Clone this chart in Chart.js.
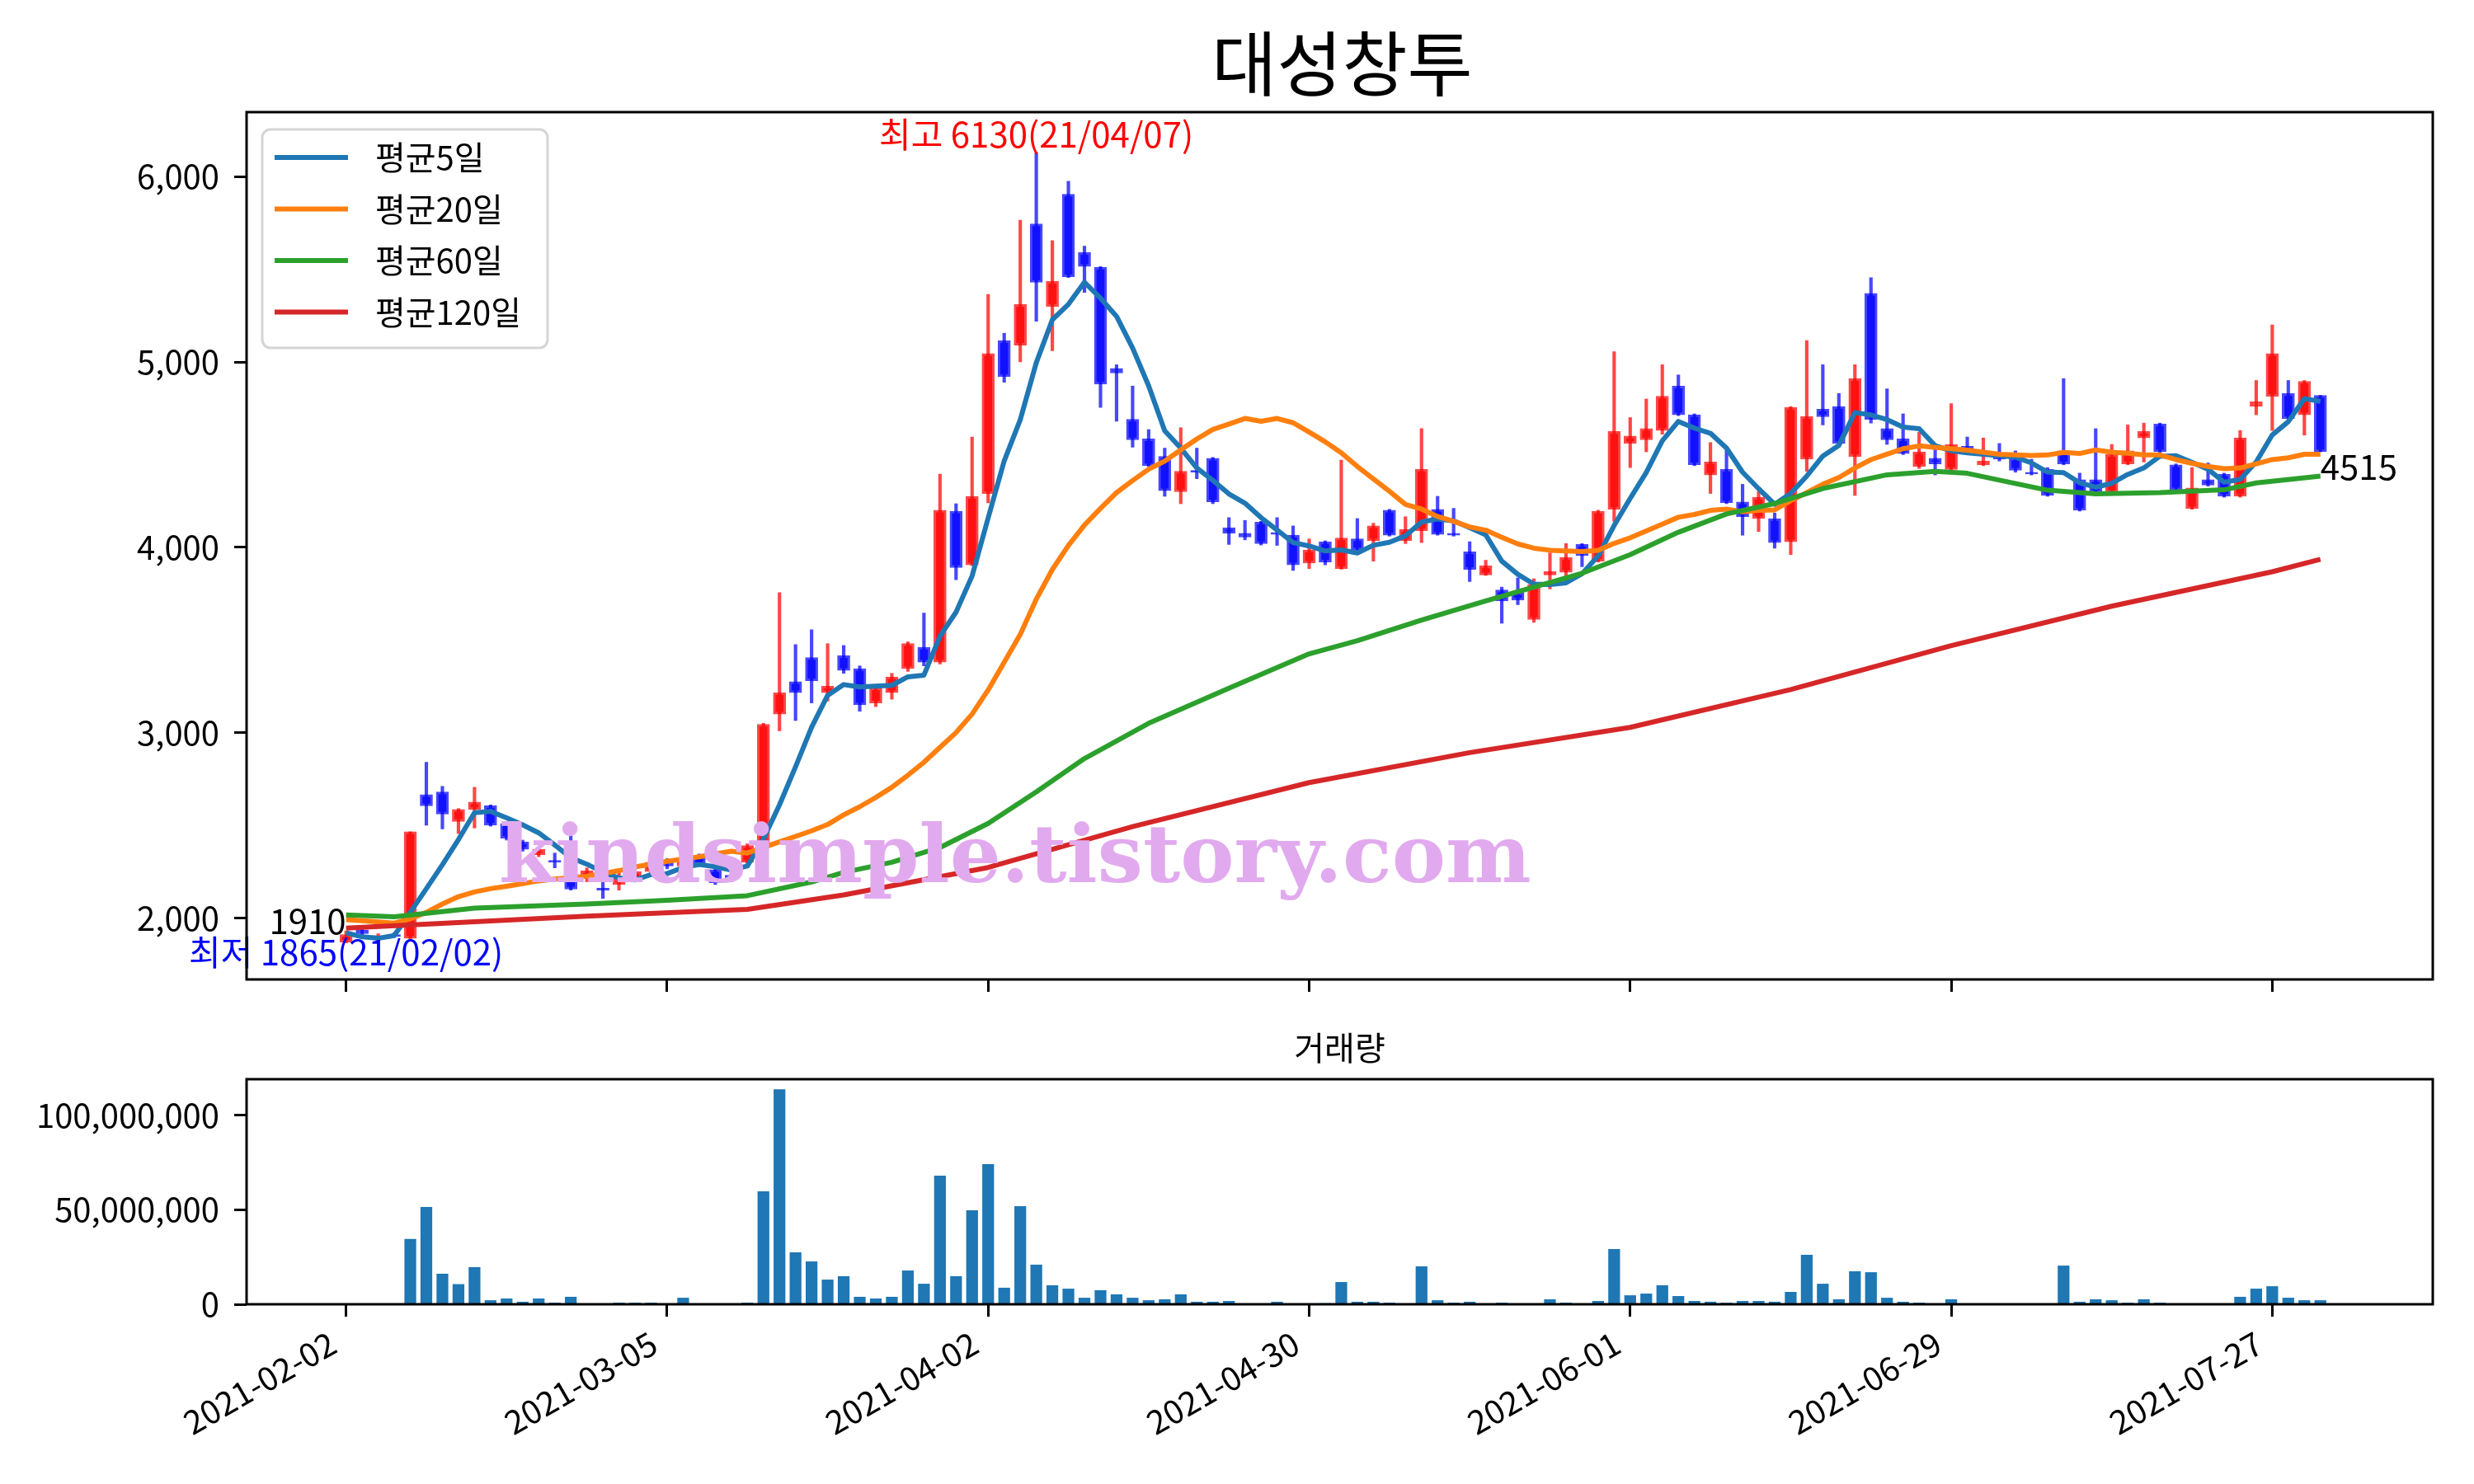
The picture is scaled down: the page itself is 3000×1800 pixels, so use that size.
<!DOCTYPE html>
<html>
<head>
<meta charset="utf-8">
<script src="https://cdn.jsdelivr.net/npm/chart.js@4.4.1/dist/chart.umd.min.js"></script>
<style>
  html, body { margin: 0; padding: 0; background: #fff; }
  #wrap { position: relative; width: 3000px; height: 1800px; }
  canvas { position: absolute; left: 0; }
</style>
</head>
<body>
<div id="wrap">
  <canvas id="price" width="3000" height="1230" style="top:0;width:3000px;height:1230px"></canvas>
  <canvas id="volume" width="3000" height="570" style="top:1230px;width:3000px;height:570px"></canvas>
</div>
<script>
/* DATA (index = trading day from 2021-02-02) */
const TICK_POS = [0, 20, 40, 60, 80, 100, 120];
const TICK_LABELS = ['2021-02-02', '2021-03-05', '2021-04-02', '2021-04-30', '2021-06-01', '2021-06-29', '2021-07-27'];

const OPEN = [1870,1935,1895,1910,1890,2665,2680,2520,2585,2605,2510,2410,2340,2310,2215,2225,2160,2180,2210,2250,
  2300,2280,2335,2260,2230,2300,2400,3100,3275,3405,3215,3415,3345,3160,3215,3345,3460,3380,4195,3905,
  4290,5115,5090,5745,5300,5905,5590,5510,4965,4690,4585,4490,4300,4415,4480,4105,4075,4135,4080,4065,
  3915,4030,3885,4045,4035,4200,4035,4090,4205,4075,3975,3850,3770,3755,3610,3850,3865,4015,3925,4205,
  4560,4580,4630,4870,4715,4390,4420,4245,4155,4155,4030,4475,4745,4760,4490,5370,4640,4585,4435,4480,
  4420,4545,4445,4505,4480,4405,4420,4520,4365,4365,4295,4450,4590,4665,4445,4210,4365,4395,4275,4760,
  4815,4830,4715,4820];
const HIGH = [1930,1950,1915,1920,2465,2840,2710,2590,2705,2610,2515,2420,2380,2350,2455,2270,2195,2260,2270,2355,
  2320,2340,2345,2265,2240,2400,3050,3755,3475,3555,3480,3470,3360,3260,3320,3490,3645,4395,4235,4595,
  5365,5155,5765,6130,5655,5975,5625,5515,4985,4870,4635,4535,4645,4535,4485,4160,4145,4140,4160,4115,
  4045,4035,4470,4155,4130,4205,4165,4640,4275,4210,4030,3930,3785,3835,3830,3970,4020,4020,4200,5055,
  4700,4800,4985,4930,4720,4565,4525,4340,4300,4185,4760,5115,4985,4830,4985,5455,4855,4720,4620,4540,
  4775,4595,4590,4560,4520,4475,4430,4910,4400,4640,4555,4660,4670,4670,4450,4430,4455,4400,4630,4900,
  5200,4900,4900,4820];
const LOW = [1865,1905,1885,1895,1885,2500,2480,2455,2485,2495,2420,2360,2330,2270,2150,2195,2105,2150,2200,2240,
  2265,2270,2280,2180,2195,2290,2395,3010,3065,3160,3170,3320,3115,3140,3180,3330,3360,3370,3825,3900,
  4240,4890,5000,5220,5060,5455,5375,4755,4680,4540,4435,4275,4235,4370,4235,4015,4040,4012,4010,3875,
  3885,3905,3882,3980,3925,4060,4020,4025,4065,4060,3815,3848,3590,3690,3595,3775,3845,3895,3920,4140,
  4430,4515,4610,4710,4440,4290,4235,4065,4085,3995,3960,4410,4660,4555,4280,4670,4555,4500,4425,4390,
  4415,4520,4440,4465,4405,4390,4275,4445,4195,4290,4290,4445,4460,4510,4305,4205,4330,4270,4270,4715,
  4630,4690,4605,4515];
const CLOSE = [1910,1915,1905,1900,2465,2605,2560,2585,2625,2500,2430,2370,2370,2300,2155,2255,2150,2210,2250,2300,
  2280,2320,2290,2190,2210,2390,3045,3215,3215,3280,3250,3335,3150,3240,3300,3480,3380,4200,3890,4275,
  5045,4920,5310,5430,5435,5460,5515,4880,4940,4580,4440,4305,4410,4405,4245,4075,4055,4020,4070,3905,
  3985,3920,4050,3985,4115,4065,4095,4420,4070,4065,3880,3900,3710,3715,3800,3870,3945,3955,4195,4625,
  4600,4640,4815,4715,4445,4460,4240,4165,4270,4025,4755,4705,4705,4560,4910,4690,4580,4505,4515,4450,
  4555,4525,4465,4475,4415,4395,4280,4450,4200,4295,4500,4520,4625,4515,4310,4320,4335,4275,4590,4785,
  5045,4695,4895,4515];
const VOLUME = [0,0,0,0,34.4e6,51.3e6,16.0e6,10.5e6,19.5e6,2.0e6,2.9e6,1.2e6,2.9e6,0.7e6,3.8e6,0.3e6,0.3e6,0.7e6,0.7e6,0.7e6,
  0.1e6,3.3e6,0.3e6,0.3e6,0.3e6,0.7e6,59.5e6,113.5e6,27.3e6,22.5e6,12.9e6,14.7e6,3.8e6,2.9e6,3.8e6,17.7e6,10.7e6,67.8e6,14.7e6,49.5e6,
  73.9e6,8.6e6,51.7e6,20.8e6,9.9e6,8.1e6,3.3e6,7.3e6,5.1e6,3.3e6,2.0e6,2.5e6,5.1e6,1.2e6,1.2e6,1.6e6,0.3e6,0.3e6,1.2e6,0.3e6,
  0.3e6,0.4e6,11.6e6,1.2e6,1.2e6,0.7e6,0.3e6,19.9e6,2.0e6,0.7e6,1.2e6,0.1e6,0.7e6,0.1e6,0.3e6,2.5e6,0.7e6,0.1e6,1.6e6,29.0e6,
  4.6e6,5.5e6,9.9e6,4.2e6,1.6e6,1.2e6,0.7e6,1.6e6,1.6e6,1.2e6,6.4e6,26.0e6,10.7e6,2.5e6,17.3e6,16.8e6,3.3e6,1.2e6,0.7e6,0.3e6,
  2.5e6,0.1e6,0.1e6,0.3e6,0.1e6,0.1e6,0.3e6,20.3e6,1.2e6,2.5e6,2.0e6,0.7e6,2.5e6,0.7e6,0.1e6,0.3e6,0.1e6,0.1e6,3.8e6,8.1e6,
  9.4e6,3.3e6,2.0e6,2.0e6];

// moving averages
const MA5 = [1920,1898,1890,1905,2030,2158,2287,2423,2568,2575,2540,2502,2459,2394,2325,2290,2247,2215,2205,2234,
  2239,2272,2288,2276,2258,2280,2425,2610,2815,3029,3201,3259,3246,3251,3255,3301,3310,3520,3650,3845,
  4158,4466,4688,4996,5228,5311,5430,5344,5246,5075,4871,4629,4535,4428,4361,4288,4238,4160,4093,4025,
  4007,3980,3986,3969,4011,4027,4062,4136,4153,4143,4106,4067,3925,3854,3801,3799,3808,3857,3953,4118,
  4264,4403,4575,4679,4643,4615,4535,4405,4316,4232,4291,4384,4492,4550,4727,4714,4689,4649,4640,4548,
  4521,4510,4502,4494,4487,4455,4406,4403,4348,4324,4345,4393,4428,4491,4494,4458,4421,4351,4366,4461,
  4606,4678,4802,4787];
const MA20 = [1990,1985,1978,1972,1995,2030,2075,2115,2140,2158,2171,2185,2200,2210,2218,2225,2240,2255,2275,2290,
  2305,2318,2330,2345,2360,2350,2380,2410,2440,2470,2504,2556,2600,2650,2705,2770,2840,2920,3000,3100,
  3230,3380,3530,3720,3880,4010,4120,4210,4295,4360,4421,4465,4525,4584,4636,4665,4695,4680,4695,4672,
  4621,4569,4510,4436,4369,4302,4231,4206,4166,4140,4110,4092,4054,4018,3995,3984,3980,3977,3984,4021,
  4051,4088,4125,4162,4177,4199,4206,4191,4199,4202,4251,4295,4340,4376,4428,4473,4502,4532,4547,4539,
  4532,4524,4513,4502,4498,4495,4498,4512,4506,4525,4513,4507,4498,4498,4473,4453,4436,4424,4428,4450,
  4473,4483,4502,4502];
const MA60_AT = [0,3,8,15,20,25,29,31,34,37,40,43,46,50,55,60,63,67,71,74,77,80,83,86,89,92,96,99,101,103,106,109,113,117,119,123];
const MA60 = [2016,2006,2053,2075,2095,2120,2194,2246,2300,2380,2510,2680,2860,3050,3240,3425,3496,3607,3711,3785,3860,3960,4081,4180,4236,4317,4391,4409,4399,4362,4308,4288,4295,4310,4347,4384];
const MA120_AT = [0,15,25,31,40,49,60,70,80,90,100,110,120,123];
const MA120 = [1945,2009,2046,2124,2272,2493,2730,2892,3028,3232,3469,3682,3868,3935];

const MA_NAMES = ['평균5일', '평균20일', '평균60일', '평균120일'];
const MA_COLORS = ['#1f77b4', '#ff7f0e', '#2ca02c', '#d62728'];

const TITLE = '대성창투';
const VOL_TITLE = '거래량';
const HI_DATE = '21/04/07';
const LO_DATE = '21/02/02';
const WATERMARK = 'kindsimple.tistory.com';

/* STYLE */
const FONT = "'Noto Sans CJK KR', 'Noto Sans', sans-serif";
Chart.defaults.font.family = FONT;
Chart.defaults.font.size = 40;
Chart.defaults.color = '#000';

const up = i => CLOSE[i] >= OPEN[i];
const bodyFill = CLOSE.map((c, i) => up(i) ? '#ff1111' : '#1111ff');
const edgeFill = CLOSE.map((c, i) => up(i) ? 'rgba(255,0,0,0.72)' : 'rgba(0,0,255,0.72)');

const frame = {
  id: 'frame',
  afterDraw(chart) {
    const { ctx, chartArea: a } = chart;
    ctx.save();
    ctx.strokeStyle = '#000';
    ctx.lineWidth = 3;
    ctx.strokeRect(a.left, a.top, a.right - a.left, a.bottom - a.top);
    ctx.restore();
  }
};

const priceExtras = {
  id: 'priceExtras',
  afterDatasetsDraw(chart) {
    const { ctx, chartArea: a, scales: { x, y } } = chart;
    ctx.save();
    ctx.beginPath();
    ctx.rect(a.left, a.top, a.right - a.left, a.bottom - a.top);
    ctx.clip();
    // watermark, stretched to the width it has in the picture
    ctx.font = `bold 95px 'DejaVu Serif', serif`;
    const w = ctx.measureText(WATERMARK).width;
    ctx.font = `bold ${Math.round(95 * 1255 / w)}px 'DejaVu Serif', serif`;
    ctx.fillStyle = 'rgb(226,170,238)';
    ctx.textAlign = 'left';
    ctx.textBaseline = 'alphabetic';
    ctx.fillText(WATERMARK, 605, 1070);
    ctx.restore();

    // high / low / first / last notes
    ctx.save();
    ctx.font = `42px ${FONT}`;
    const hiIdx = HIGH.indexOf(Math.max(...HIGH));
    const loIdx = LOW.indexOf(Math.min(...LOW));
    ctx.fillStyle = '#ff0000';
    ctx.textAlign = 'center';
    ctx.textBaseline = 'bottom';
    ctx.fillText(`최고 ${HIGH[hiIdx]}(${HI_DATE})`, x.getPixelForValue(hiIdx), y.getPixelForValue(HIGH[hiIdx]) - 1);
    ctx.fillStyle = '#0000ff';
    ctx.textBaseline = 'top';
    ctx.fillText(`최저 ${LOW[loIdx]}(${LO_DATE})`, x.getPixelForValue(loIdx), y.getPixelForValue(LOW[loIdx]) - 10);
    ctx.fillStyle = '#000';
    ctx.textAlign = 'right';
    ctx.textBaseline = 'bottom';
    ctx.fillText(String(CLOSE[0]), x.getPixelForValue(0), y.getPixelForValue(CLOSE[0]) + 4);
    const last = CLOSE.length - 1;
    ctx.textAlign = 'left';
    ctx.textBaseline = 'top';
    ctx.fillText(String(CLOSE[last]), x.getPixelForValue(last), y.getPixelForValue(CLOSE[last]) - 3);
    ctx.restore();
  },
  afterDraw(chart) {
    const { ctx, chartArea: a } = chart;
    ctx.save();
    // title
    ctx.font = `86px ${FONT}`;
    ctx.fillStyle = '#000';
    ctx.textAlign = 'center';
    ctx.textBaseline = 'middle';
    ctx.fillText(TITLE, (a.left + a.right) / 2 + 3, 77);
    // legend
    const lx = a.left + 19, ly = a.top + 21;
    ctx.beginPath();
    ctx.roundRect(lx, ly, 346, 265, 10);
    ctx.fillStyle = 'rgba(255,255,255,0.8)';
    ctx.fill();
    ctx.strokeStyle = '#d5d5d5';
    ctx.lineWidth = 3;
    ctx.stroke();
    ctx.font = `40px ${FONT}`;
    MA_NAMES.forEach((name, k) => {
      const yy = ly + 34 + k * 62.5;
      ctx.strokeStyle = MA_COLORS[k];
      ctx.lineWidth = 6;
      ctx.beginPath();
      ctx.moveTo(lx + 15, yy);
      ctx.lineTo(lx + 104, yy);
      ctx.stroke();
      ctx.fillStyle = '#000';
      ctx.textAlign = 'left';
      ctx.textBaseline = 'middle';
      ctx.fillText(name, lx + 137, yy);
    });
    ctx.restore();
  }
};

const volTitle = {
  id: 'volTitle',
  afterDraw(chart) {
    const { ctx, chartArea: a } = chart;
    ctx.save();
    ctx.font = `40px ${FONT}`;
    ctx.fillStyle = '#000';
    ctx.textAlign = 'center';
    ctx.textBaseline = 'bottom';
    ctx.fillText(VOL_TITLE, (a.left + a.right) / 2, a.top - 18);
    ctx.restore();
  }
};

const tickGrid = { display: true, offset: false, drawOnChartArea: false, drawTicks: true, tickLength: 15, tickWidth: 3, tickColor: '#000' };

const lineSet = (label, pts, color) => ({
  type: 'line', label, data: pts, borderColor: color, borderWidth: 6,
  pointRadius: 0, tension: 0, order: 1, borderJoinStyle: 'round', borderCapStyle: 'butt'
});

new Chart(document.getElementById('price'), {
  type: 'bar',
  data: {
    datasets: [
      lineSet(MA_NAMES[3], MA120.map((v, k) => ({ x: MA120_AT[k], y: v })), MA_COLORS[3]),
      lineSet(MA_NAMES[2], MA60.map((v, k) => ({ x: MA60_AT[k], y: v })), MA_COLORS[2]),
      lineSet(MA_NAMES[1], MA20.map((v, i) => ({ x: i, y: v })), MA_COLORS[1]),
      lineSet(MA_NAMES[0], MA5.map((v, i) => ({ x: i, y: v })), MA_COLORS[0]),
      {
        label: 'body', order: 2, grouped: false, barThickness: 15,
        data: OPEN.map((o, i) => ({ x: i, y: [Math.min(o, CLOSE[i]), Math.max(o, CLOSE[i])] })),
        backgroundColor: bodyFill, borderColor: edgeFill, borderWidth: 3, borderSkipped: false
      },
      {
        label: 'wick', order: 3, grouped: false, barThickness: 3.5,
        data: HIGH.map((h, i) => ({ x: i, y: [LOW[i], h] })),
        backgroundColor: edgeFill, borderWidth: 0
      }
    ]
  },
  options: {
    responsive: false, animation: false, devicePixelRatio: 1,
    layout: { padding: { top: 136, right: 50, bottom: 0, left: 0 } },
    plugins: { legend: { display: false }, tooltip: { enabled: false }, title: { display: false } },
    scales: {
      x: {
        type: 'linear', min: -6.2, max: 130, offset: false,
        afterBuildTicks: axis => { axis.ticks = TICK_POS.map(v => ({ value: v })); },
        afterFit: axis => { axis.height = 40; },
        ticks: { display: false },
        grid: tickGrid, border: { display: false }
      },
      y: {
        min: 1668, max: 6348,
        afterBuildTicks: axis => { axis.ticks = [2000, 3000, 4000, 5000, 6000].map(v => ({ value: v })); },
        afterFit: axis => { axis.width = 299; },
        ticks: { padding: 18, callback: v => v.toLocaleString('en-US') },
        grid: tickGrid, border: { display: false }
      }
    }
  },
  plugins: [priceExtras, frame]
});

new Chart(document.getElementById('volume'), {
  type: 'bar',
  data: {
    datasets: [{
      label: VOL_TITLE, grouped: false, barThickness: 13.6,
      data: VOLUME.map((v, i) => ({ x: i, y: v })),
      backgroundColor: '#1f77b4', borderWidth: 0
    }]
  },
  options: {
    responsive: false, animation: false, devicePixelRatio: 1,
    layout: { padding: { top: 79, right: 50, bottom: 0, left: 0 } },
    plugins: { legend: { display: false }, tooltip: { enabled: false } },
    scales: {
      x: {
        type: 'linear', min: -6.2, max: 130, offset: false,
        afterBuildTicks: axis => { axis.ticks = TICK_POS.map(v => ({ value: v })); },
        afterFit: axis => { axis.height = 218; },
        ticks: {
          autoSkip: false, minRotation: 30, maxRotation: 30, padding: 8, labelOffset: -16,
          callback: v => TICK_LABELS[TICK_POS.indexOf(v)]
        },
        grid: tickGrid, border: { display: false }
      },
      y: {
        min: 0, max: 1.1895e8,
        afterBuildTicks: axis => { axis.ticks = [0, 5e7, 1e8].map(v => ({ value: v })); },
        afterFit: axis => { axis.width = 299; },
        ticks: { padding: 18, callback: v => v.toLocaleString('en-US') },
        grid: tickGrid, border: { display: false }
      }
    }
  },
  plugins: [volTitle, frame]
});
</script>
</body>
</html>
